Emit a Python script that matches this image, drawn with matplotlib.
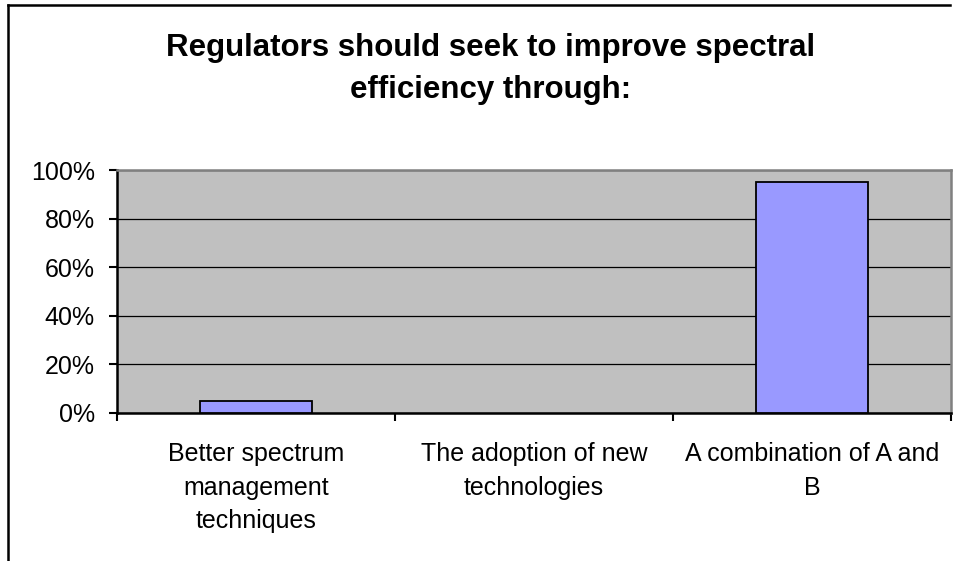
import matplotlib.pyplot as plt
from matplotlib.lines import Line2D
from matplotlib.ticker import FixedLocator, PercentFormatter

# 数据
categories = ['Better spectrum\nmanagement\ntechniques',
              'The adoption of new\ntechnologies',
              'A combination of A and\nB']
values = [0.05, 0.0, 0.95]
y_ticks = [0, 0.2, 0.4, 0.6, 0.8, 1.0]

plt.rcParams['font.family'] = ['Liberation Sans', 'DejaVu Sans']

fig = plt.figure(figsize=(9.59, 5.61), dpi=100)
ax = fig.add_axes([117 / 959, 1 - 413 / 561, 834 / 959, 243 / 561])

ax.set_facecolor('#C0C0C0')
x = range(len(categories))
# 值为 0 的柱子不画边框
edges = ['black' if v > 0 else 'none' for v in values]
ax.bar(x, values, width=0.4, color='#9999FF', edgecolor=edges, linewidth=1.3, zorder=3)

ax.set_xlim(-0.5, len(categories) - 0.5)
ax.set_ylim(0, 1)
ax.yaxis.set_major_locator(FixedLocator(y_ticks))
ax.yaxis.set_major_formatter(PercentFormatter(1.0, decimals=0))
ax.grid(axis='y', color='black', linewidth=0.9, zorder=1)
ax.set_axisbelow(True)

# x 轴: 刻度在分类边界, 标签在分类中心
ax.set_xticks([i - 0.5 for i in range(len(categories) + 1)])
ax.set_xticklabels([])
ax.set_xticks(list(x), minor=True)
ax.set_xticklabels(categories, minor=True, fontsize=18, linespacing=1.5)
ax.tick_params(axis='x', which='major', direction='out', length=6, width=1.5, color='black')
ax.tick_params(axis='x', which='minor', length=0, pad=21)
ax.tick_params(axis='y', direction='out', length=6, width=1.5, labelsize=18, pad=10)

for side in ['top', 'right']:
    ax.spines[side].set_color('#808080')
    ax.spines[side].set_linewidth(1.8)
for side in ['left', 'bottom']:
    ax.spines[side].set_color('black')
    ax.spines[side].set_linewidth(1.8)

fig.text(0.512, 1 - 69 / 561, 'Regulators should seek to improve spectral\nefficiency through:',
         ha='center', va='center', fontsize=22.5, fontweight='bold', linespacing=1.5)

# 外框
fig.add_artist(Line2D([8 / 959, 8 / 959], [0, 1 - 5 / 561], color='black', linewidth=1.8))
fig.add_artist(Line2D([8 / 959, 950 / 959], [1 - 5 / 561, 1 - 5 / 561], color='black', linewidth=1.8))

fig.savefig('out.png', dpi=100)
